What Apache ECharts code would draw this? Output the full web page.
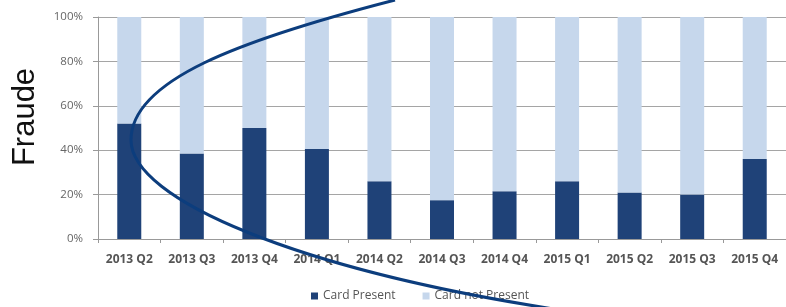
<!DOCTYPE html>
<html>
<head>
<meta charset="utf-8">
<script src="https://cdn.jsdelivr.net/npm/echarts@6/dist/echarts.min.js"></script>
<style>
  html, body { margin: 0; padding: 0; background: #fff; }
  #main { width: 786px; height: 307px; }
</style>
</head>
<body>
<div id="main"></div>
<script>
// quarters on the x axis
var quarters = ['2013 Q2', '2013 Q3', '2013 Q4', '2014 Q1', '2014 Q2', '2014 Q3',
                '2014 Q4', '2015 Q1', '2015 Q2', '2015 Q3', '2015 Q4'];
// share of fraud, card present
var cardPresent = [0.52, 0.385, 0.50, 0.405, 0.26, 0.175, 0.215, 0.26, 0.21, 0.20, 0.36];
// card not present fills the rest up to 100%
var cardNotPresent = [0.48, 0.615, 0.50, 0.595, 0.74, 0.825, 0.785, 0.74, 0.79, 0.80, 0.64];

var chart = echarts.init(document.getElementById('main'), null, { renderer: 'canvas' });

var arcStyle = { fill: null, stroke: '#0c3d7d', lineWidth: 3 };

var option = {
  animation: false,
  textStyle: { fontFamily: 'Open Sans' },
  grid: { left: 98, top: 17, width: 696, height: 222 },
  legend: {
    bottom: 0,
    left: 306,
    itemWidth: 7,
    itemHeight: 7,
    itemGap: 27,
    icon: 'rect',
    textStyle: { fontSize: 12, color: '#555' },
    data: ['Card Present', 'Card not Present']
  },
  xAxis: {
    type: 'category',
    data: quarters,
    axisLine: { lineStyle: { color: '#999' } },
    axisTick: { show: true, length: 4, lineStyle: { color: '#999' } },
    axisLabel: { fontSize: 12, color: '#555', fontWeight: 'bold', margin: 15, interval: 0 }
  },
  yAxis: {
    type: 'value',
    min: 0,
    max: 1,
    interval: 0.2,
    name: 'Fraude',
    nameLocation: 'middle',
    nameGap: 57,
    nameTextStyle: { fontSize: 31, color: '#111', fontFamily: 'Liberation Sans', padding: [0, 0, 0, 22] },
    axisLine: { show: true, lineStyle: { color: '#999' } },
    axisTick: { show: true, length: 5, lineStyle: { color: '#999' } },
    splitLine: { lineStyle: { color: '#a5a5a5' } },
    axisLabel: {
      fontSize: 11.5,
      color: '#666',
      margin: 15,
      formatter: function (v) { return Math.round(v * 100) + '%'; }
    }
  },
  series: [
    {
      name: 'Card Present',
      type: 'bar',
      stack: 'f',
      barWidth: 24,
      itemStyle: { color: '#1f4278' },
      data: cardPresent
    },
    {
      name: 'Card not Present',
      type: 'bar',
      stack: 'f',
      barWidth: 24,
      itemStyle: { color: '#c6d7ec' },
      data: cardNotPresent
    }
  ],
  graphic: [
    // the hand drawn arc over the chart, upper half
    {
      type: 'bezierCurve',
      z: 100,
      shape: { x1: 395, y1: 0, cpx1: 240, cpy1: 40, cpx2: 131, cpy2: 80, x2: 131, y2: 140 },
      style: arcStyle
    },
    // lower half
    {
      type: 'bezierCurve',
      z: 100,
      shape: { x1: 131, y1: 140, cpx1: 131, cpy1: 200, cpx2: 300, cpy2: 270, x2: 560, y2: 310 },
      style: arcStyle
    }
  ]
};

chart.setOption(option);
</script>
</body>
</html>
